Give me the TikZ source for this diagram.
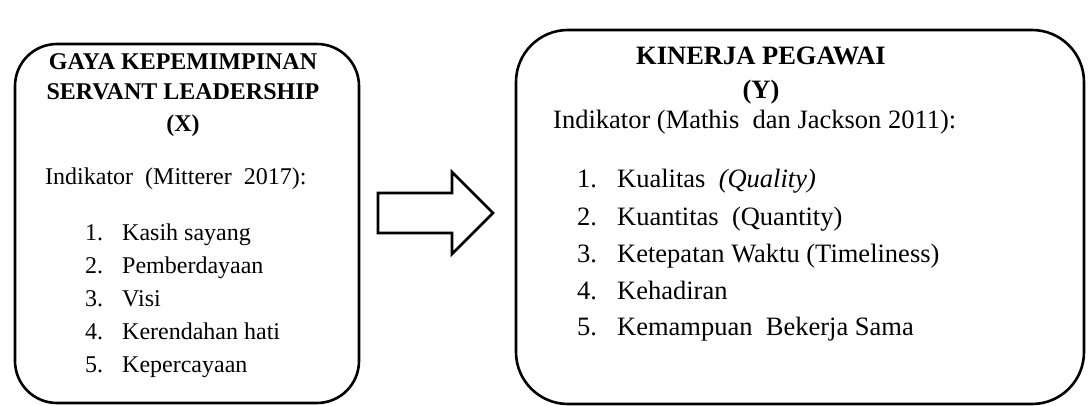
\documentclass[tikz,border=0pt]{standalone}
\usepackage{fontspec}
\newfontfamily\tnr{Liberation Serif}
\begin{document}
\begin{tikzpicture}[x=1pt,y=-1pt,
  box/.style={draw, line width=2.6pt, inner sep=0pt},
  lt/.style={inner sep=0pt, font=\tnr\fontsize{24}{28}\selectfont},
  ltb/.style={inner sep=0pt, font=\tnr\fontsize{24}{28}\selectfont\bfseries, anchor=base},
  rt/.style={inner sep=0pt, font=\tnr\fontsize{26.5}{30}\selectfont},
  rtb/.style={inner sep=0pt, font=\tnr\fontsize{26.5}{30}\selectfont\bfseries, anchor=base},
  blockarrow/.style={draw, line width=2.8pt, fill=white, line join=miter}]
\useasboundingbox (0,0) rectangle (1088,406);
% boxes
\node[box, rounded corners=42pt, minimum width=344pt, minimum height=359pt] (X) at (187,223.5) {};
\node[box, rounded corners=52pt, minimum width=568pt, minimum height=374pt] (Y) at (800,217) {};
% left texts
\node[ltb] (x1) at (183,70) {GAYA KEPEMIMPINAN};
\node[ltb] (x2) at (183,100) {SERVANT LEADERSHIP};
\node[ltb] (x3) at (183,132) {(X)};
\node[lt, anchor=base west] (xi) at (45,185) {Indikator \ (Mitterer \ 2017):};
\foreach \n/\t/\yy in {1/Kasih sayang/241, 2/Pemberdayaan/274, 3/Visi/307, 4/Kerendahan hati/340, 5/Kepercayaan/373}{
  \node[lt, anchor=base west] (xn\n) at (85,\yy) {\n.};
  \node[lt, anchor=base west] (xt\n) at (122,\yy) {\t};
}
% right texts
\node[rtb] (y1) at (761,65) {KINERJA PEGAWAI};
\node[rtb] (y2) at (761,99) {(Y)};
\node[rt, anchor=base west] (yi) at (553,129) {Indikator (Mathis \ dan Jackson 2011):};
\foreach \n/\t/\yy in {1/{Kualitas \ \textit{(Quality)}}/188, 2/{Kuantitas \ (Quantity)}/226, 3/{Ketepatan Waktu (Timeliness)}/263, 4/Kehadiran/300, 5/{Kemampuan \ Bekerja Sama}/336}{
  \node[rt, anchor=base west] (yn\n) at (577,\yy) {\n.};
  \node[rt, anchor=base west] (yt\n) at (617,\yy) {\t};
}
% block arrow
\coordinate (a0) at (378,193);
\draw[blockarrow] (a0) -- (452,193) -- (452,172) -- (493,213) -- (452,254) -- (452,233) -- (378,233) -- cycle;
\end{tikzpicture}
\end{document}
